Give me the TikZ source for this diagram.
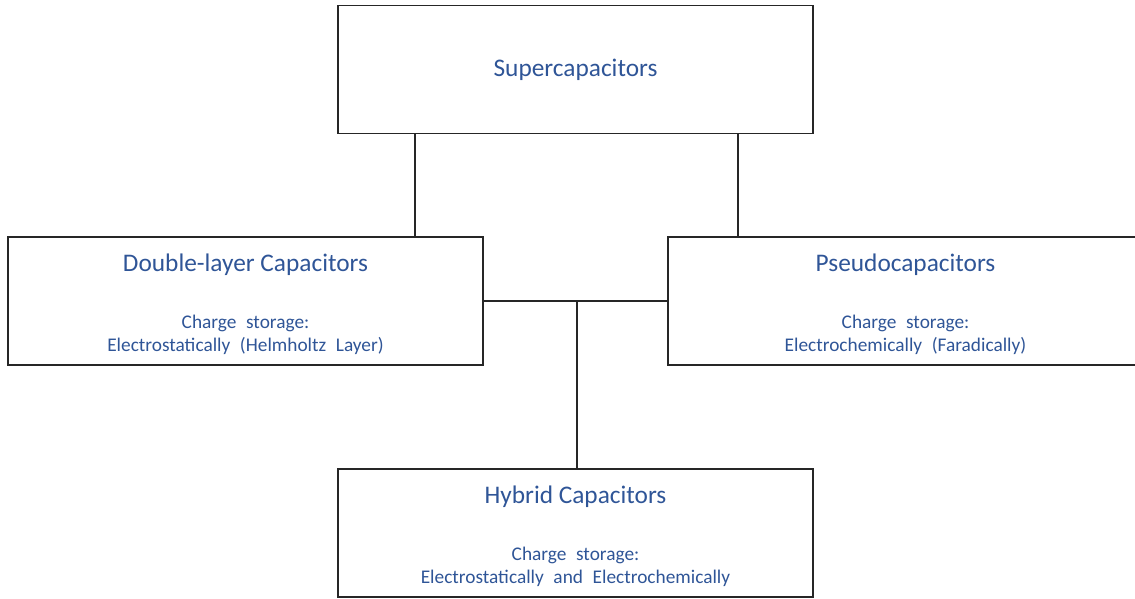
\documentclass[tikz,border=0pt]{standalone}
\usepackage{fontspec}
\setmainfont{Carlito}
\newfontfamily\notefont{Carlito}[WordSpace=2.2]
\usetikzlibrary{positioning}
\definecolor{capblue}{HTML}{2F5597}
\definecolor{boxline}{HTML}{262626}
\tikzset{
    capbox/.style={draw=boxline,line width=1.2pt,minimum width=356.25pt,minimum height=96pt,inner sep=0pt},
    captitle/.style={text=capblue,font=\fontsize{19}{22}\selectfont},
    capnote/.style={text=capblue,font=\notefont\fontsize{14.5}{17.25}\selectfont,align=center},
    link/.style={draw=boxline,line width=1.3pt},
}
\newcommand\CapBox[5]{%
    \node[capbox] (#1) at (#2,#3) {};
    \node[captitle] (#1title) at ([yshift=-21.5pt]#1.north) {#4};
    \node[capnote] (#1note) at ([yshift=-73.9pt]#1.north) {Charge storage:\\#5};
}

\begin{document}
\begin{tikzpicture}[x=0.75pt,y=-0.75pt]
    \useasboundingbox (0,0) rectangle (1135,599);
    \node[capbox,captitle] (sc) at (575.5,69.5) {Supercapacitors};
    \CapBox{dl}{245.5}{301}{Double-layer Capacitors}{Electrostatically (Helmholtz Layer)}
    \CapBox{pc}{905.5}{301}{Pseudocapacitors}{Electrochemically (Faradically)}
    \CapBox{hy}{575.5}{533}{Hybrid Capacitors}{Electrostatically and Electrochemically}
    % links
    \coordinate (lkl) at (415,0);
    \coordinate (lkr) at (738,0);
    \coordinate (lkm) at (577,0);
    \draw[link] (sc.south -| lkl) -- (dl.north -| lkl);
    \draw[link] (sc.south -| lkr) -- (pc.north -| lkr);
    \draw[link] (dl.east) -- (pc.west);
    \draw[link] (hy.north -| lkm) -- (dl.east -| lkm);
\end{tikzpicture}
\end{document}
